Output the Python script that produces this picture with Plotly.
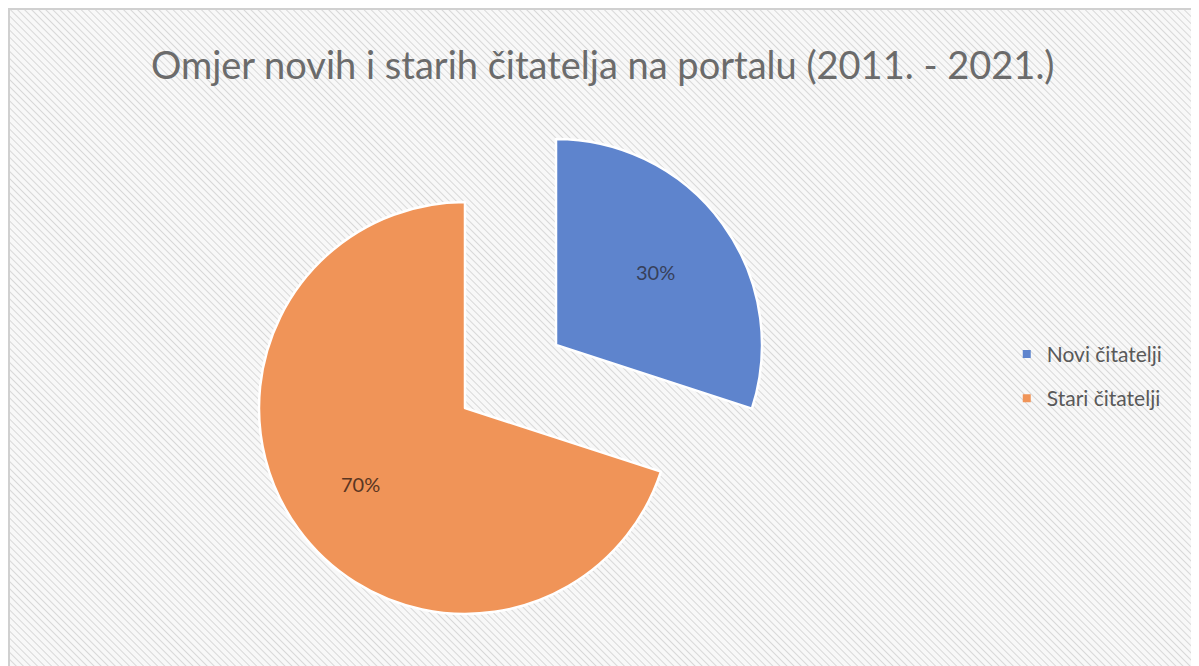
import base64
import math
import plotly.graph_objects as go

W, H = 1199, 666

# ---- data ----
labels = ["Novi čitatelji", "Stari čitatelji"]
values = [30, 70]
colors = ["rgb(94,132,205)", "rgb(240,148,88)"]
label_colors = ["#37405a", "#5a3622"]
title_text = "Omjer novih i starih čitatelja na portalu (2011. - 2021.)"

total = sum(values)
pct_text = [f"{v / total * 100:.0f}%" for v in values]

# ---- hatched background as inline SVG ----
svg = (
    f'<svg xmlns="http://www.w3.org/2000/svg" width="{W}" height="{H}">'
    '<defs><pattern id="p" width="5" height="5" patternUnits="userSpaceOnUse" '
    'patternTransform="rotate(-45)">'
    '<rect width="5" height="5" fill="#f8f8f8"/>'
    '<line x1="0" y1="0" x2="0" y2="5" stroke="#d8d8d8" stroke-width="2"/>'
    '</pattern></defs>'
    f'<rect x="0" y="0" width="{W}" height="{H}" fill="url(#p)"/>'
    f'<line x1="0" y1="1" x2="{W}" y2="1" stroke="#d0d0d0" stroke-width="2"/>'
    f'<line x1="1" y1="0" x2="1" y2="{H}" stroke="#d0d0d0" stroke-width="2"/>'
    '</svg>'
)
bg_src = "data:image/svg+xml;base64," + base64.b64encode(svg.encode()).decode()


def px_domain(cx, cy, r):
    return dict(x=[(cx - r) / W, (cx + r) / W], y=[(H - cy - r) / H, (H - cy + r) / H])


R = 206
centers = [(548, 337), (457, 400)]  # exploded slice centre, main pie centre (px)
label_radius = [0.60, 0.63]

fig = go.Figure()
# main (unpulled) slice
fig.add_trace(go.Pie(
    labels=labels, values=values, sort=False, direction="clockwise", rotation=0,
    marker=dict(colors=["rgba(0,0,0,0)", colors[1]],
                line=dict(color="white", width=[0, 2.5])),
    textinfo="none",
    domain=px_domain(*centers[1], R), showlegend=False, hoverinfo="skip",
))
# exploded slice
fig.add_trace(go.Pie(
    labels=labels, values=values, sort=False, direction="clockwise", rotation=0,
    marker=dict(colors=[colors[0], "rgba(0,0,0,0)"],
                line=dict(color="white", width=[2.5, 0])),
    textinfo="none",
    domain=px_domain(*centers[0], R), showlegend=False, hoverinfo="skip",
))

# percentage labels at the middle angle of each slice
annotations = []
cum = 0
for i, v in enumerate(values):
    mid = (cum + v / 2) / total * 2 * math.pi
    cum += v
    cx, cy = centers[i]
    lx = cx + label_radius[i] * R * math.sin(mid)
    ly = cy - label_radius[i] * R * math.cos(mid)
    annotations.append(dict(
        text=pct_text[i], x=lx / W, y=1 - ly / H, xref="paper", yref="paper",
        xanchor="center", yanchor="middle", showarrow=False,
        font=dict(family="Lato", size=20, color=label_colors[i]),
    ))

# legend entries
for lab, col in zip(labels, colors):
    fig.add_trace(go.Scatter(
        x=[None], y=[None], mode="markers", name=lab, legendgroup=lab,
        marker=dict(symbol="square", size=8, color=col),
    ))

fig.update_layout(
    width=W, height=H,
    margin=dict(l=0, r=0, t=0, b=0),
    paper_bgcolor="white", plot_bgcolor="rgba(0,0,0,0)",
    xaxis=dict(visible=False), yaxis=dict(visible=False),
    title=dict(text=title_text, x=0.496, xanchor="center", y=0.914, yanchor="middle",
               font=dict(family="Lato", size=38, color="#6b6b6b")),
    legend=dict(x=0.833, y=0.447, xanchor="left", yanchor="middle",
                bgcolor="rgba(0,0,0,0)", tracegroupgap=14,
                font=dict(family="Lato", size=21, color="#595959"),
                itemwidth=30),
    annotations=annotations,
    images=[dict(source=bg_src, xref="paper", yref="paper", x=0, y=1,
                 sizex=1, sizey=1, xanchor="left", yanchor="top",
                 sizing="stretch", layer="below")],
)

fig.write_html("out.html")
